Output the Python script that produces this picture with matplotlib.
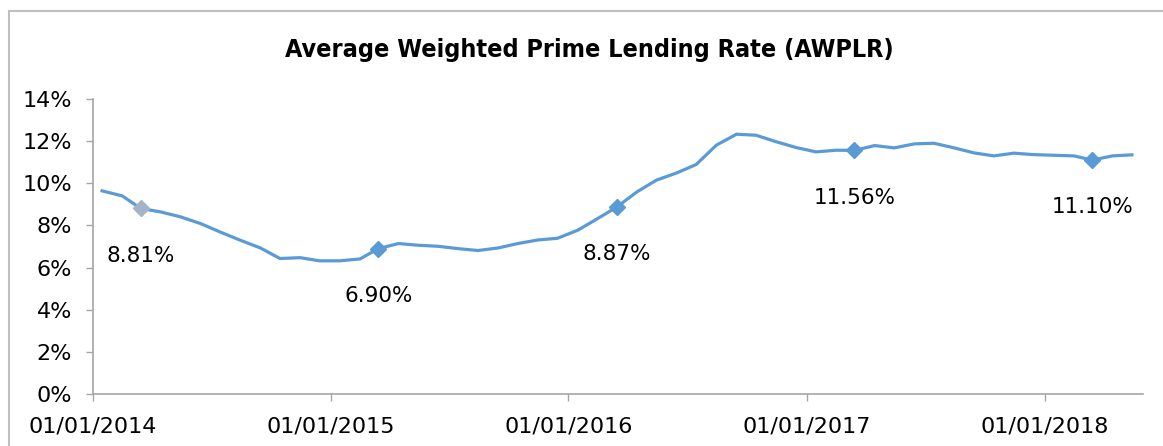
import pandas as pd
import matplotlib
matplotlib.use("Agg")
import matplotlib.pyplot as plt
import matplotlib.dates as mdates
from matplotlib.patches import Rectangle
from matplotlib.ticker import FuncFormatter, MultipleLocator

# =====================================================
# Datos: AWPLR mensual (%), ene 2014 - may 2018
# =====================================================
fechas = pd.date_range("2014-01-01", periods=53, freq="MS") + pd.Timedelta(days=14)

awplr = [
    9.64, 9.40, 8.81, 8.64, 8.41, 8.09, 7.69, 7.30, 6.93, 6.43, 6.47, 6.32,
    6.32, 6.41, 6.90, 7.14, 7.06, 7.01, 6.90, 6.81, 6.93, 7.14, 7.31, 7.39,
    7.77, 8.33, 8.87, 9.59, 10.15, 10.49, 10.89, 11.81, 12.33, 12.28, 11.97, 11.70,
    11.49, 11.57, 11.56, 11.79, 11.68, 11.87, 11.90, 11.68, 11.44, 11.30, 11.43, 11.36,
    11.33, 11.30, 11.10, 11.30, 11.35,
]

# índices marcados (marzo de cada año) y sus etiquetas
idx_marcas = [2, 14, 26, 38, 50]
etiquetas = ["8.81%", "6.90%", "8.87%", "11.56%", "11.10%"]
color_marcas = ["#A5B3C9", "#5B9BD5", "#5B9BD5", "#5B9BD5", "#5B9BD5"]

azul = "#5B9BD5"
gris = "#A6A6A6"

fig = plt.figure(figsize=(11.63, 4.46), dpi=100)

# marco exterior del gráfico
fig.patches.append(Rectangle((9 / 1163, -0.05), 1.2, 1 - 11 / 446 + 0.05,
                             transform=fig.transFigure, fill=False,
                             edgecolor="#BFBFBF", linewidth=1.5))

ax = fig.add_axes([93 / 1163, 52 / 446, 1050 / 1163, 295 / 446])

ax.plot(fechas, awplr, color=azul, linewidth=2.3, solid_joinstyle="round")

for i, txt, c in zip(idx_marcas, etiquetas, color_marcas):
    ax.plot(fechas[i], awplr[i], marker="D", markersize=8, color=c,
            markeredgecolor=c, linestyle="none")
    ax.annotate(txt, (fechas[i], awplr[i]), xytext=(0, -34),
                textcoords="offset points", ha="center", va="center",
                fontsize=15.5, color="black")

ax.set_ylim(0, 14)
ax.set_xlim(pd.Timestamp("2014-01-01"), pd.Timestamp("2018-06-01"))
ax.yaxis.set_major_locator(MultipleLocator(2))
ax.yaxis.set_major_formatter(FuncFormatter(lambda v, p: f"{v:.0f}%"))
ax.xaxis.set_major_locator(mdates.YearLocator())
ax.xaxis.set_major_formatter(mdates.DateFormatter("%d/%m/%Y"))

for s in ["top", "right"]:
    ax.spines[s].set_visible(False)
for s in ["left", "bottom"]:
    ax.spines[s].set_color(gris)
    ax.spines[s].set_linewidth(1.2)

ax.tick_params(axis="both", colors=gris, labelcolor="black", labelsize=16,
               length=5, width=1)
ax.tick_params(axis="x", pad=11)
ax.tick_params(axis="y", pad=10)

fig.text(0.507, 1 - 50 / 446, "Average Weighted Prime Lending Rate (AWPLR)",
         ha="center", va="center", fontsize=18, fontweight="bold",
         fontstretch="condensed",
         family=["Liberation Sans Narrow", "DejaVu Sans"])

plt.savefig("out.png", dpi=100)
plt.close()
